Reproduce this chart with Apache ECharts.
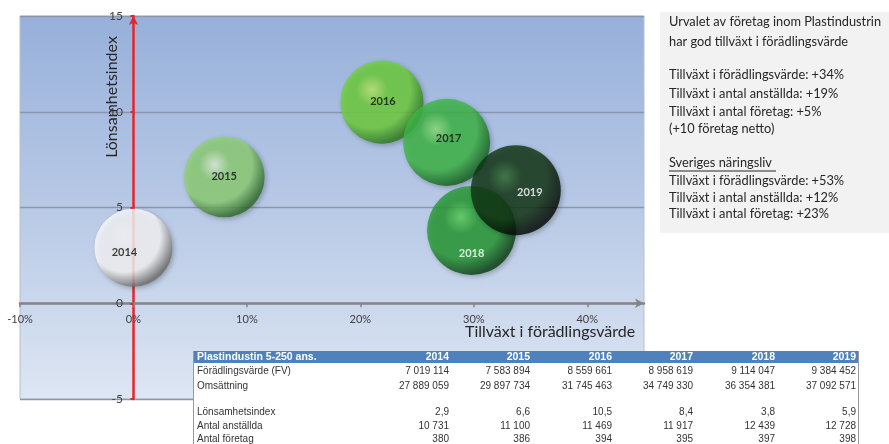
<!DOCTYPE html>
<html>
<head>
<meta charset="utf-8">
<script src="https://cdn.jsdelivr.net/npm/echarts@6/dist/echarts.min.js"></script>
<style>
  html, body { margin: 0; padding: 0; background: #ffffff; }
  #chart { width: 889px; height: 444px; }
</style>
</head>
<body>
<div id="chart"></div>
<script>
// Plastindustrin 5-250 anställda, 2014–2019
const years = ['2014', '2015', '2016', '2017', '2018', '2019'];
const fvGrowth = [0, 8.0, 21.9, 27.6, 29.8, 33.7];          // Tillväxt i förädlingsvärde, % mot 2014
const profitIndex = [2.9, 6.6, 10.5, 8.4, 3.8, 5.9];        // Lönsamhetsindex
const valueAdded = [7019114, 7583894, 8559661, 8958619, 9114047, 9384452];
const turnover = [27889059, 29897734, 31745463, 34749330, 36354381, 37092571];
const employees = [10731, 11100, 11469, 11917, 12439, 12728];
const companies = [380, 386, 394, 395, 397, 398];
const xTickValues = [-10, 0, 10, 20, 30, 40];

const tableTitle = 'Plastindustin 5-250 ans.';
const infoLines = [
  'Urvalet av företag inom Plastindustrin',
  'har god tillväxt i förädlingsvärde',
  'Tillväxt i förädlingsvärde: +34%',
  'Tillväxt i antal anställda: +19%',
  'Tillväxt i antal företag: +5%',
  '(+10 företag netto)',
  'Sveriges näringsliv',
  'Tillväxt i förädlingsvärde: +53%',
  'Tillväxt i antal anställda: +12%',
  'Tillväxt i antal företag: +23%'
];

// sphere shading per year: [highlight, body, shadow]
const sphereShades = [
  ['#ffffff', '#fafafa', '#6e6e6e'],
  ['#e4f4d8', '#8fd276', '#2f6a28'],
  ['#bdee6a', '#6fd13a', '#2a7a1a'],
  ['#8ee47a', '#3cb844', '#10601a'],
  ['#5ad456', '#239a30', '#063d0e'],
  ['#2e6e2e', '#0f3311', '#010601']
];
const labelColors = ['#111', '#111', '#111', '#111', '#ffffff', '#ffffff'];
const labelOffsets = [[-9, 5], [0, 0], [1, -1], [2, -4], [0, 23], [14, 2]];

function sphere(shade) {
  return {
    type: 'radial', x: 0.38, y: 0.35, r: 0.68,
    colorStops: [
      { offset: 0, color: shade[0] },
      { offset: 0.28, color: shade[1] },
      { offset: 0.68, color: shade[1] },
      { offset: 0.97, color: shade[2] },
      { offset: 1, color: shade[2] }
    ]
  };
}

function fmtInt(n) {
  return String(n).replace(/\B(?=(\d{3})+(?!\d))/g, ' ');
}
function fmtDec(n) {
  return n.toFixed(1).replace('.', ',');
}

const bubbles = years.map((y, i) => ({
  name: y,
  value: [fvGrowth[i], profitIndex[i], turnover[i]],
  itemStyle: {
    color: sphere(sphereShades[i]),
    shadowBlur: 5, shadowColor: 'rgba(0,0,0,0.3)', shadowOffsetX: 2, shadowOffsetY: 2
  },
  label: { color: labelColors[i], offset: labelOffsets[i] }
}));

// ---- graphic: info box ----
const graphics = [];
graphics.push({
  type: 'rect', shape: { x: 660, y: 12, width: 229, height: 221 },
  style: { fill: '#f2f2f2' }, z: 10
});
const infoY = [22, 42, 75, 94, 112, 129, 163, 181, 198, 214];
infoLines.forEach((t, i) => {
  graphics.push({
    type: 'text', x: 669, y: infoY[i], z: 11,
    style: {
      text: t, fill: '#262626', font: '12.8px Lato', textVerticalAlign: 'middle'
    }
  });
});
graphics.push({
  type: 'line', shape: { x1: 669, y1: 171, x2: 776, y2: 171 },
  style: { stroke: '#262626', lineWidth: 1 }, z: 11
});

// ---- graphic: axis titles ----
graphics.push({
  type: 'text', x: 465, y: 332, z: 5,
  style: { text: 'Tillväxt i förädlingsvärde', fill: '#262626', font: '16px Lato', textVerticalAlign: 'middle' }
});
graphics.push({
  type: 'text', x: 112, y: 97, rotation: Math.PI / 2, z: 5,
  style: { text: 'Lönsamhetsindex', fill: '#262626', font: '16px Lato', textAlign: 'center', textVerticalAlign: 'middle' }
});

// ---- graphic: data table ----
const tX = 193, tW = 665, tTop = 351;
graphics.push({
  type: 'rect', shape: { x: tX, y: tTop, width: 889 - tX, height: 444 - tTop },
  style: { fill: '#ffffff' }, z: 20
});
graphics.push({
  type: 'rect', shape: { x: tX, y: tTop, width: tW, height: 12 },
  style: { fill: '#4f81bd' }, z: 21
});
graphics.push({
  type: 'line', shape: { x1: tX + 0.5, y1: tTop, x2: tX + 0.5, y2: 444 },
  style: { stroke: '#9a9a9a', lineWidth: 1 }, z: 22
});
graphics.push({
  type: 'line', shape: { x1: tX + tW + 0.5, y1: tTop, x2: tX + tW + 0.5, y2: 444 },
  style: { stroke: '#9a9a9a', lineWidth: 1 }, z: 22
});
const colRight = [449, 530, 612, 693, 775, 856];
const rowDefs = [
  { label: 'Förädlingsvärde (FV)', vals: valueAdded.map(fmtInt), y: 371 },
  { label: 'Omsättning', vals: turnover.map(fmtInt), y: 386 },
  { label: 'Lönsamhetsindex', vals: profitIndex.map(fmtDec), y: 412 },
  { label: 'Antal anställda', vals: employees.map(fmtInt), y: 426 },
  { label: 'Antal företag', vals: companies.map(fmtInt), y: 439 }
];
graphics.push({
  type: 'text', x: 197, y: 357.5, z: 23,
  style: { text: tableTitle, fill: '#ffffff', font: 'bold 10.5px "Liberation Sans"', textVerticalAlign: 'middle' }
});
years.forEach((y, i) => {
  graphics.push({
    type: 'text', x: colRight[i], y: 357.5, z: 23,
    style: { text: y, fill: '#ffffff', font: 'bold 10.5px "Liberation Sans"', textAlign: 'right', textVerticalAlign: 'middle' }
  });
});
rowDefs.forEach(r => {
  graphics.push({
    type: 'text', x: 197, y: r.y, z: 23,
    style: { text: r.label, fill: '#333333', font: '10px "Liberation Sans"', textVerticalAlign: 'middle' }
  });
  r.vals.forEach((v, i) => {
    graphics.push({
      type: 'text', x: colRight[i], y: r.y, z: 23,
      style: { text: v, fill: '#333333', font: '10px "Liberation Sans"', textAlign: 'right', textVerticalAlign: 'middle' }
    });
  });
});

const chart = echarts.init(document.getElementById('chart'), null, { renderer: 'canvas' });
chart.setOption({
  animation: false,
  backgroundColor: '#ffffff',
  grid: {
    left: 20, right: 245, top: 16, bottom: 45,
    show: true,
    borderColor: '#b9c0cc', borderWidth: 1,
    backgroundColor: {
      type: 'linear', x: 0, y: 0, x2: 0, y2: 1,
      colorStops: [
        { offset: 0, color: '#97b0da' },
        { offset: 0.5, color: '#b8c9e6' },
        { offset: 1, color: '#dde6f3' }
      ]
    }
  },
  xAxis: {
    type: 'value', min: -10, max: 45, interval: 10,
    axisLine: {
      onZero: true, lineStyle: { color: '#858585', width: 2.5 },
      symbol: ['none', 'arrow'], symbolSize: [7, 9]
    },
    axisTick: { show: true, length: 4, inside: false, customValues: xTickValues, lineStyle: { color: '#858585', width: 1.5 } },
    axisLabel: {
      customValues: xTickValues, margin: -85,
      formatter: v => v + '%', color: '#404040', fontFamily: 'Lato', fontSize: 11
    },
    splitLine: { show: false }
  },
  yAxis: {
    type: 'value', min: -5, max: 15, interval: 5,
    axisLine: {
      onZero: true, lineStyle: { color: '#e8242b', width: 2.5 },
      symbol: ['none', 'arrow'], symbolSize: [7, 9]
    },
    axisTick: { show: true, length: 3, lineStyle: { color: '#e8242b', width: 2 } },
    axisLabel: { margin: -103, color: '#404040', fontFamily: 'Lato', fontSize: 12 },
    splitLine: { show: true, lineStyle: { color: '#8a96ac', width: 1.3 } }
  },
  series: [{
    type: 'scatter',
    data: bubbles,
    symbolSize: val => 14.77 * Math.sqrt(val[2] / 1e6),
    label: {
      show: true, position: 'inside',
      formatter: p => p.name,
      fontFamily: 'Lato', fontWeight: 'bold', fontSize: 11
    },
    z: 3
  }],
  graphic: graphics
});
</script>
</body>
</html>
